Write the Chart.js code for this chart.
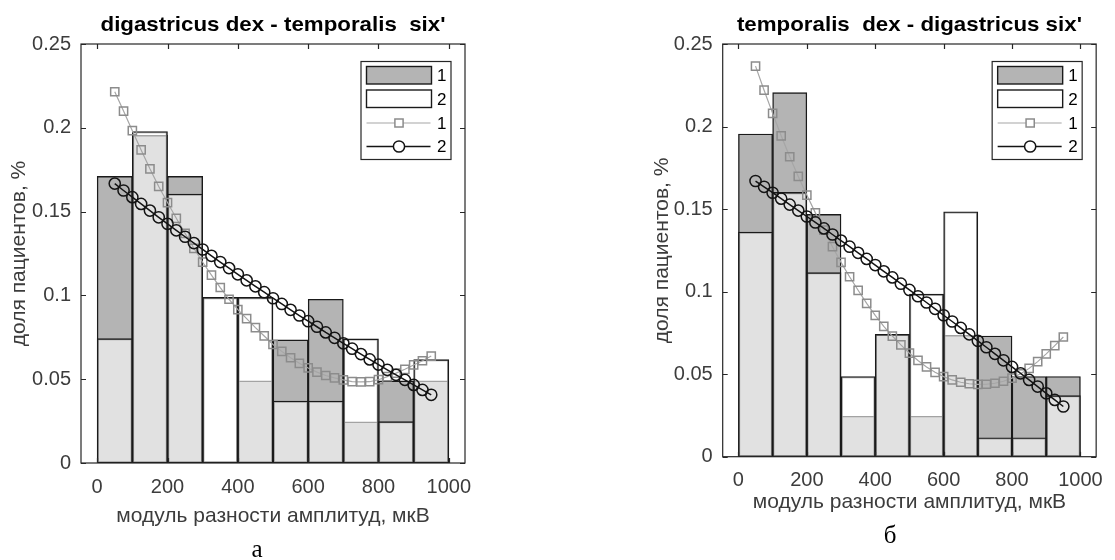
<!DOCTYPE html>
<html lang="ru">
<head>
<meta charset="UTF-8">
<title>доля пациентов</title>
<script src="https://cdn.jsdelivr.net/npm/chart.js"></script>
<style>
  body {
    margin: 0;
    background: #fff;
    width: 1115px;
    height: 560px;
    position: relative;
    overflow: hidden;
  }
  .panel { position: absolute; top: 0; }
  #panelA { left: 0; }
  #panelB { left: 560px; }
</style>
</head>
<body>
<div class="panel" id="panelA"><canvas id="chartA" width="560" height="560"></canvas></div>
<div class="panel" id="panelB"><canvas id="chartB" width="555" height="560"></canvas></div>

<script>
// бины гистограммы (центры) и точки аппроксимирующих кривых
const binCenters = [50, 150, 250, 350, 450, 550, 650, 750, 850, 950];
const fitPoints = [50, 75, 100, 125, 150, 175, 200, 225, 250, 275, 300, 325, 350, 375, 400, 425, 450, 475,
  500, 525, 550, 575, 600, 625, 650, 675, 700, 725, 750, 775, 800, 825, 850, 875, 900, 925, 950];

const xTickValues = [0, 200, 400, 600, 800, 1000];
const xTickLabels = ['0', '200', '400', '600', '800', '1000'];
const yTickValues = [0, 0.05, 0.1, 0.15, 0.2, 0.25];
const yTickLabels = ['0', '0.05', '0.1', '0.15', '0.2', '0.25'];
const legendLabels = ['1', '2', '1', '2'];

const titleA = "digastricus dex - temporalis  six'";
const titleB = "temporalis  dex - digastricus six'";
const xTitle = 'модуль разности амплитуд, мкВ';
const yTitle = 'доля пациентов, %';

// а: digastricus dex - temporalis six'
const histA1 = [0.171, 0.1955, 0.171, 0, 0.049, 0.0735, 0.0977, 0.0245, 0.049, 0.049];
const histA2 = [0.0742, 0.1978, 0.1605, 0.0988, 0.0988, 0.037, 0.037, 0.0741, 0.0247, 0.0617];
const fitA1 = [0.2215, 0.2100, 0.1983, 0.1868, 0.1755, 0.1650, 0.1554, 0.1460, 0.1370, 0.1281,
  0.1198, 0.1121, 0.1047, 0.0977, 0.0915, 0.0861, 0.0808, 0.0758, 0.0707, 0.0666,
  0.0628, 0.0595, 0.0567, 0.0542, 0.0522, 0.0508, 0.0496, 0.0486, 0.0484, 0.0485,
  0.0497, 0.0515, 0.0536, 0.0559, 0.0585, 0.0610, 0.0638];
const fitA2 = [0.1667, 0.1626, 0.1586, 0.1546, 0.1506, 0.1466, 0.1427, 0.1388, 0.1350, 0.1312,
  0.1274, 0.1236, 0.1199, 0.1163, 0.1126, 0.1090, 0.1054, 0.1019, 0.0983, 0.0949,
  0.0914, 0.0880, 0.0846, 0.0813, 0.0779, 0.0747, 0.0714, 0.0682, 0.0650, 0.0618,
  0.0587, 0.0556, 0.0526, 0.0496, 0.0466, 0.0436, 0.0407];

// б: temporalis dex - digastricus six'
const histB1 = [0.1955, 0.2205, 0.1468, 0.0245, 0.0741, 0.0245, 0.0735, 0.0731, 0.0486, 0.0486];
const histB2 = [0.1361, 0.1601, 0.1115, 0.0486, 0.0741, 0.0985, 0.1484, 0.0115, 0.0115, 0.037];
const fitB1 = [0.2366, 0.2220, 0.2080, 0.1944, 0.1817, 0.1698, 0.1585, 0.1477, 0.1373, 0.1272,
  0.1177, 0.1090, 0.1008, 0.0929, 0.0856, 0.0790, 0.0731, 0.0677, 0.0627, 0.0583,
  0.0544, 0.0511, 0.0485, 0.0465, 0.0451, 0.0442, 0.0438, 0.0439, 0.0445, 0.0457,
  0.0476, 0.0502, 0.0535, 0.0576, 0.0623, 0.0673, 0.0725];
const fitB2 = [0.1670, 0.1635, 0.1599, 0.1563, 0.1527, 0.1491, 0.1455, 0.1419, 0.1383, 0.1346,
  0.1309, 0.1272, 0.1235, 0.1198, 0.1161, 0.1123, 0.1086, 0.1048, 0.1010, 0.0972,
  0.0934, 0.0896, 0.0857, 0.0819, 0.0780, 0.0741, 0.0702, 0.0663, 0.0623, 0.0584,
  0.0544, 0.0505, 0.0465, 0.0425, 0.0384, 0.0344, 0.0304];

Chart.defaults.font.family = '"Liberation Sans", Arial, sans-serif';
const axisColor = '#262626';
const textColor = '#3c3c3c';

// рамка с внутренними рисками, заголовок, подпись и легенда
const framePlugin = {
  id: 'frame',
  afterDraw(chart, args, opts) {
    const { ctx, chartArea: a, scales: { x, y } } = chart;
    const ds = chart.data.datasets;
    ctx.save();

    ctx.strokeStyle = axisColor;
    ctx.lineWidth = 1.2;
    ctx.strokeRect(a.left, a.top, a.right - a.left, a.bottom - a.top);
    ctx.beginPath();
    x.ticks.forEach(t => {
      const px = Math.round(x.getPixelForValue(t.value)) + 0.5;
      ctx.moveTo(px, a.bottom); ctx.lineTo(px, a.bottom - 5);
      ctx.moveTo(px, a.top); ctx.lineTo(px, a.top + 5);
    });
    y.ticks.forEach(t => {
      const py = Math.round(y.getPixelForValue(t.value)) + 0.5;
      ctx.moveTo(a.left, py); ctx.lineTo(a.left + 5, py);
      ctx.moveTo(a.right, py); ctx.lineTo(a.right - 5, py);
    });
    ctx.stroke();

    // заголовок (подогнан по ширине оригинала)
    ctx.fillStyle = '#000';
    ctx.font = 'bold 20.5px "Liberation Sans", Arial, sans-serif';
    ctx.textAlign = 'center';
    ctx.textBaseline = 'alphabetic';
    const tw = ctx.measureText(opts.title).width;
    ctx.save();
    ctx.translate((a.left + a.right) / 2, a.top - 13.5);
    ctx.scale(opts.titleWidth / tw, 1);
    ctx.fillText(opts.title, 0, 0);
    ctx.restore();

    // подпись а / б
    ctx.font = '25px "Liberation Serif", "Times New Roman", serif';
    ctx.fillText(opts.caption, opts.captionX, opts.captionY);

    // легенда
    const lw = 90, lh = 98;
    const lx = a.right - 14 - lw, ly = a.top + 17.5;
    ctx.fillStyle = '#fff';
    ctx.fillRect(lx, ly, lw, lh);
    ctx.strokeStyle = axisColor;
    ctx.lineWidth = 1.2;
    ctx.strokeRect(lx, ly, lw, lh);

    const rx = lx + 5.5, rw = 65;
    [0, 1].forEach(i => {
      const ry = ly + 5 + i * 23.5;
      ctx.fillStyle = '#fff';
      ctx.fillRect(rx, ry, rw, 17.5);
      ctx.fillStyle = ds[i].backgroundColor;
      ctx.fillRect(rx, ry, rw, 17.5);
      ctx.strokeStyle = ds[i].borderColor;
      ctx.lineWidth = ds[i].borderWidth;
      ctx.strokeRect(rx, ry, rw, 17.5);
    });
    [2, 3].forEach((i, j) => {
      const my = ly + 61.5 + j * 23.5;
      ctx.strokeStyle = ds[i].borderColor;
      ctx.lineWidth = ds[i].borderWidth;
      ctx.beginPath();
      ctx.moveTo(rx, my); ctx.lineTo(rx + rw - 1, my);
      ctx.stroke();
      ctx.strokeStyle = ds[i].pointBorderColor;
      ctx.lineWidth = ds[i].pointBorderWidth;
      ctx.fillStyle = '#fff';
      ctx.beginPath();
      if (ds[i].pointStyle === 'rect') {
        const s = Math.SQRT1_2 * ds[i].pointRadius;
        ctx.rect(rx + rw / 2 - s, my - s, 2 * s, 2 * s);
      } else {
        ctx.arc(rx + rw / 2, my, ds[i].pointRadius, 0, Math.PI * 2);
      }
      ctx.fill();
      ctx.stroke();
    });

    ctx.fillStyle = '#000';
    ctx.font = '17px "Liberation Sans", Arial, sans-serif';
    ctx.textAlign = 'left';
    ctx.textBaseline = 'middle';
    const labelYs = [ly + 14, ly + 37.5, ly + 61.5, ly + 85];
    legendLabels.forEach((t, i) => ctx.fillText(t, lx + 76, labelYs[i] + 1));

    ctx.restore();
  }
};

function makeChart(id, p) {
  const W = p.width, H = 560;
  return new Chart(document.getElementById(id), {
    type: 'bar',
    data: {
      datasets: [
        {
          label: '1',
          data: binCenters.map((x, i) => ({ x: x, y: p.hist1[i] })),
          backgroundColor: '#b4b4b4',
          borderColor: '#1a1a1a',
          borderWidth: 1.4,
          borderSkipped: false,
          grouped: false,
          barPercentage: 1,
          categoryPercentage: 1,
          order: 4
        },
        {
          label: '2',
          data: binCenters.map((x, i) => ({ x: x, y: p.hist2[i] })),
          backgroundColor: 'rgba(255,255,255,0.6)',
          borderColor: '#1a1a1a',
          borderWidth: 1.4,
          borderSkipped: false,
          grouped: false,
          barPercentage: 1,
          categoryPercentage: 1,
          order: 3
        },
        {
          type: 'line',
          label: '1',
          data: fitPoints.map((x, i) => ({ x: x, y: p.fit1[i] })),
          borderColor: '#a6a6a6',
          borderWidth: 1.2,
          pointStyle: 'rect',
          pointRadius: 5.8,
          pointBorderColor: '#8c8c8c',
          pointBackgroundColor: 'rgba(0,0,0,0)',
          pointBorderWidth: 1.5,
          fill: false,
          tension: 0,
          order: 2
        },
        {
          type: 'line',
          label: '2',
          data: fitPoints.map((x, i) => ({ x: x, y: p.fit2[i] })),
          borderColor: '#141414',
          borderWidth: 1.5,
          pointStyle: 'circle',
          pointRadius: 5.6,
          pointBorderColor: '#141414',
          pointBackgroundColor: 'rgba(0,0,0,0)',
          pointBorderWidth: 1.5,
          fill: false,
          tension: 0,
          order: 1
        }
      ]
    },
    options: {
      responsive: false,
      animation: false,
      events: [],
      layout: {
        padding: { left: p.padLeft, top: p.area.top, right: W - p.area.right, bottom: 0 }
      },
      scales: {
        x: {
          type: 'linear',
          min: -46,
          max: 1046,
          offset: false,
          grid: { display: false, drawTicks: false, offset: false },
          border: { display: false },
          afterFit: s => { s.height = H - p.area.bottom; },
          afterBuildTicks: s => { s.ticks = xTickValues.map(v => ({ value: v })); },
          ticks: {
            padding: 12,
            color: textColor,
            font: { size: 20 },
            maxRotation: 0,
            callback: v => xTickLabels[xTickValues.indexOf(v)]
          },
          title: {
            display: true,
            text: xTitle,
            color: textColor,
            font: { size: 21 },
            padding: { top: 0, bottom: p.xTitlePad }
          }
        },
        y: {
          type: 'linear',
          min: 0,
          max: 0.25,
          grid: { display: false, drawTicks: false },
          border: { display: false },
          afterFit: s => { s.width = p.area.left - p.padLeft; },
          afterBuildTicks: s => { s.ticks = yTickValues.map(v => ({ value: v })); },
          ticks: {
            padding: 10,
            color: textColor,
            font: { size: 20 },
            callback: v => yTickLabels[yTickValues.indexOf(v)]
          },
          title: {
            display: true,
            text: yTitle,
            color: textColor,
            font: { size: 21 },
            padding: { top: 7, bottom: 0 }
          }
        }
      },
      plugins: {
        legend: { display: false },
        tooltip: { enabled: false },
        frame: {
          title: p.title,
          titleWidth: 345,
          caption: p.caption,
          captionX: p.captionX,
          captionY: p.captionY
        }
      }
    },
    plugins: [framePlugin]
  });
}

makeChart('chartA', {
  width: 560,
  area: { left: 81, top: 44, right: 465, bottom: 463 },
  padLeft: 0,
  xTitlePad: 31,
  hist1: histA1, hist2: histA2, fit1: fitA1, fit2: fitA2,
  title: titleA,
  caption: 'а', captionX: 257, captionY: 557
});

makeChart('chartB', {
  width: 555,
  area: { left: 162.7, top: 44, right: 547.3, bottom: 456.7 },
  padLeft: 82.7,
  xTitlePad: 45,
  hist1: histB1, hist2: histB2, fit1: fitB1, fit2: fitB2,
  title: titleB,
  caption: 'б', captionX: 330, captionY: 543
});
</script>
</body>
</html>
